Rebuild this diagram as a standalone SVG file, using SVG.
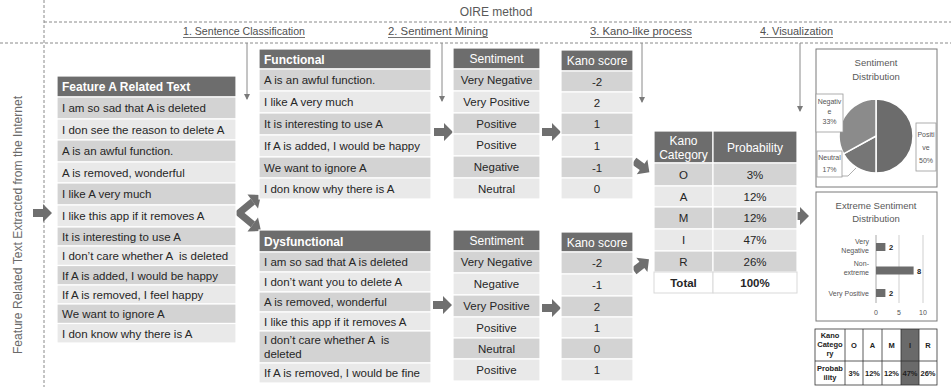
<svg xmlns="http://www.w3.org/2000/svg" width="951" height="387" viewBox="0 0 951 387">
<defs>
<style>
.dash{stroke:#8a8a8a;stroke-width:1;stroke-dasharray:3,2;fill:none}
.hd{fill:#6d6d6d;stroke:#fff;stroke-width:1.2}
.dk{fill:#d3d3d3;stroke:#fff;stroke-width:1.2}
.lt{fill:#e9e9e9;stroke:#fff;stroke-width:1.2}
.wt{fill:#fff;stroke:#d9d9d9;stroke-width:1}
.t{font-family:"Liberation Sans",Arial,sans-serif;font-size:11.5px;fill:#262626}
.th{font-family:"Liberation Sans",Arial,sans-serif;font-size:12px;fill:#fff}
.b{font-weight:bold}
.c{text-anchor:middle}
.stage{font-family:"Liberation Sans",Arial,sans-serif;font-size:11px;fill:#505050}
.ul{stroke:#505050;stroke-width:0.8}
.va{stroke:#8a8a8a;stroke-width:1;marker-end:url(#tri)}
.ba{fill:#6f6f6f}
.sm{font-family:"Liberation Sans",Arial,sans-serif;font-size:7px;fill:#555}
.ch{font-family:"Liberation Sans",Arial,sans-serif;font-size:9.5px;fill:#595959}
.box{fill:#fff;stroke:#7a7a7a;stroke-width:1}
.tb{font-family:"Liberation Sans",Arial,sans-serif;font-size:7.5px;font-weight:bold;fill:#222}
.pre{white-space:pre}
</style>
<marker id="tri" viewBox="0 0 6 6" refX="5" refY="3" markerWidth="6" markerHeight="6" orient="auto" markerUnits="userSpaceOnUse">
<path d="M0,0 L6,3 L0,6 Z" fill="#7a7a7a"/>
</marker>
<path id="barrow" d="M0,-4 L10,-4 L10,-9 L19,0 L10,9 L10,4 L0,4 Z"/>
</defs>
<rect width="951" height="387" fill="#fff"/>

<g id="frame">
<line class="dash" x1="44" y1="0" x2="44" y2="387"/>
<line class="dash" x1="44" y1="22" x2="951" y2="22"/>
<line class="dash" x1="0" y1="43" x2="951" y2="43"/>
<text x="496" y="16" class="c" font-family="Liberation Sans, Arial, sans-serif" font-size="12" fill="#595959">OIRE method</text>
<text x="22" y="225" class="c" font-family="Liberation Sans, Arial, sans-serif" font-size="12" fill="#6a6a6a" transform="rotate(-90 22 225)" textLength="258" lengthAdjust="spacingAndGlyphs">Feature Related Text Extracted from the Internet</text>
</g>

<g id="stages">
<text class="stage" x="183" y="35" textLength="122" lengthAdjust="spacingAndGlyphs">1. Sentence Classification</text>
<line class="ul" x1="183" y1="37.5" x2="305" y2="37.5"/>
<text class="stage" x="388" y="35" textLength="100" lengthAdjust="spacingAndGlyphs">2. Sentiment Mining</text>
<line class="ul" x1="388" y1="37.5" x2="488" y2="37.5"/>
<text class="stage" x="590" y="35" textLength="102" lengthAdjust="spacingAndGlyphs">3. Kano-like process</text>
<line class="ul" x1="590" y1="37.5" x2="692" y2="37.5"/>
<text class="stage" x="760" y="35" textLength="73" lengthAdjust="spacingAndGlyphs">4. Visualization</text>
<line class="ul" x1="760" y1="37.5" x2="833" y2="37.5"/>
</g>

<g id="connectors">
<line class="va" x1="247" y1="43" x2="247" y2="99"/>
<line class="va" x1="442" y1="43" x2="442" y2="101"/>
<line class="va" x1="642" y1="43" x2="642" y2="102"/>
<line class="va" x1="800" y1="43" x2="800" y2="111"/>
<use href="#barrow" class="ba" transform="translate(33,213)"/>
<use href="#barrow" class="ba" transform="translate(434,132)"/>
<use href="#barrow" class="ba" transform="translate(542,132)"/>
<use href="#barrow" class="ba" transform="translate(433,305)"/>
<use href="#barrow" class="ba" transform="translate(542,308)"/>
<use href="#barrow" class="ba" transform="translate(634,161) rotate(36)"/>
<use href="#barrow" class="ba" transform="translate(634,271) rotate(-38)"/>
<use href="#barrow" class="ba" transform="translate(790,216)"/>
<g id="fork" fill="#6f6f6f">
<polyline points="252.9,201.5 239,213 252.9,224.5" fill="none" stroke="#6f6f6f" stroke-width="7" stroke-linejoin="miter"/>
<polygon points="261,195 247.5,194.5 258,208.5"/>
<polygon points="261,231 247.5,231.5 258,217.5"/>
</g>
</g>

<g id="feature-table">
<rect class="hd" x="57" y="76" width="179" height="21"/>
<rect class="dk" x="57" y="97" width="179" height="22"/>
<rect class="lt" x="57" y="119" width="179" height="21"/>
<rect class="dk" x="57" y="140" width="179" height="22"/>
<rect class="lt" x="57" y="162" width="179" height="21"/>
<rect class="dk" x="57" y="183" width="179" height="22"/>
<rect class="lt" x="57" y="205" width="179" height="22"/>
<rect class="dk" x="57" y="227" width="179" height="19"/>
<rect class="lt" x="57" y="246" width="179" height="19.5"/>
<rect class="dk" x="57" y="265.5" width="179" height="19.5"/>
<rect class="lt" x="57" y="285" width="179" height="19"/>
<rect class="dk" x="57" y="304" width="179" height="19.5"/>
<rect class="lt" x="57" y="323.5" width="179" height="19.5"/>
<text class="th b" x="62" y="91">Feature A Related Text</text>
<text class="t" x="62" y="112">I am so sad that A is deleted</text>
<text class="t" x="62" y="134">I don see the reason to delete A</text>
<text class="t" x="62" y="155">A is an awful function.</text>
<text class="t" x="62" y="177">A is removed, wonderful</text>
<text class="t" x="62" y="198">I like A very much</text>
<text class="t" x="62" y="220">I like this app if it removes A</text>
<text class="t" x="62" y="240.5">It is interesting to use A</text>
<text class="t pre" x="62" y="260">I don’t care whether A  is deleted</text>
<text class="t" x="62" y="279.5">If A is added, I would be happy</text>
<text class="t" x="62" y="299">If A is removed, I feel happy</text>
<text class="t" x="62" y="318">We want to ignore A</text>
<text class="t" x="62" y="337.5">I don know why there is A</text>
</g>

<g id="functional-table">
<rect class="hd" x="259" y="49" width="172" height="20"/>
<rect class="dk" x="259" y="69" width="172" height="22"/>
<rect class="lt" x="259" y="91" width="172" height="22"/>
<rect class="dk" x="259" y="113" width="172" height="22"/>
<rect class="lt" x="259" y="135" width="172" height="22"/>
<rect class="dk" x="259" y="157" width="172" height="21"/>
<rect class="lt" x="259" y="178" width="172" height="21"/>
<text class="th b" x="264" y="63.5">Functional</text>
<text class="t" x="264" y="84">A is an awful function.</text>
<text class="t" x="264" y="106">I like A very much</text>
<text class="t" x="264" y="128">It is interesting to use A</text>
<text class="t" x="264" y="150">If A is added, I would be happy</text>
<text class="t" x="264" y="171.5">We want to ignore A</text>
<text class="t" x="264" y="192.5">I don know why there is A</text>
</g>

<g id="sentiment-top">
<rect class="hd" x="453" y="48" width="87" height="21"/>
<rect class="dk" x="453" y="69" width="87" height="22"/>
<rect class="lt" x="453" y="91" width="87" height="22"/>
<rect class="dk" x="453" y="113" width="87" height="21"/>
<rect class="lt" x="453" y="134" width="87" height="22"/>
<rect class="dk" x="453" y="156" width="87" height="22"/>
<rect class="lt" x="453" y="178" width="87" height="21"/>
<text class="th c" x="496.5" y="63">Sentiment</text>
<text class="t c" x="496.5" y="84">Very Negative</text>
<text class="t c" x="496.5" y="106">Very Positive</text>
<text class="t c" x="496.5" y="127.5">Positive</text>
<text class="t c" x="496.5" y="149">Positive</text>
<text class="t c" x="496.5" y="171">Negative</text>
<text class="t c" x="496.5" y="192.5">Neutral</text>
</g>

<g id="kano-top">
<rect class="hd" x="561" y="50" width="72" height="21"/>
<rect class="dk" x="561" y="71" width="72" height="21"/>
<rect class="lt" x="561" y="92" width="72" height="21"/>
<rect class="dk" x="561" y="113" width="72" height="22"/>
<rect class="lt" x="561" y="135" width="72" height="22"/>
<rect class="dk" x="561" y="157" width="72" height="21"/>
<rect class="lt" x="561" y="178" width="72" height="21"/>
<text class="th c" x="597" y="65">Kano score</text>
<text class="t c" x="597" y="85.5">-2</text>
<text class="t c" x="597" y="106.5">2</text>
<text class="t c" x="597" y="128">1</text>
<text class="t c" x="597" y="150">1</text>
<text class="t c" x="597" y="171.5">-1</text>
<text class="t c" x="597" y="192.5">0</text>
</g>

<g id="dysfunctional-table">
<rect class="hd" x="259" y="230" width="172" height="22"/>
<rect class="dk" x="259" y="252" width="172" height="20"/>
<rect class="lt" x="259" y="272" width="172" height="20"/>
<rect class="dk" x="259" y="292" width="172" height="20"/>
<rect class="lt" x="259" y="312" width="172" height="19"/>
<rect class="dk" x="259" y="331" width="172" height="32"/>
<rect class="lt" x="259" y="363" width="172" height="20"/>
<text class="th b" x="264" y="245.5">Dysfunctional</text>
<text class="t" x="264" y="266">I am so sad that A is deleted</text>
<text class="t" x="264" y="286">I don’t want you to delete A</text>
<text class="t" x="264" y="306">A is removed, wonderful</text>
<text class="t" x="264" y="325.5">I like this app if it removes A</text>
<text class="t pre" x="264" y="343.5">I don’t care whether A  is</text>
<text class="t" x="264" y="357.5">deleted</text>
<text class="t" x="264" y="377">If A is removed, I would be fine</text>
</g>

<g id="sentiment-bottom">
<rect class="hd" x="453" y="230" width="87" height="21"/>
<rect class="dk" x="453" y="251" width="87" height="22"/>
<rect class="lt" x="453" y="273" width="87" height="22"/>
<rect class="dk" x="453" y="295" width="87" height="22"/>
<rect class="lt" x="453" y="317" width="87" height="21"/>
<rect class="dk" x="453" y="338" width="87" height="21"/>
<rect class="lt" x="453" y="359" width="87" height="22"/>
<text class="th c" x="496.5" y="245">Sentiment</text>
<text class="t c" x="496.5" y="266">Very Negative</text>
<text class="t c" x="496.5" y="288">Negative</text>
<text class="t c" x="496.5" y="310">Very Positive</text>
<text class="t c" x="496.5" y="331.5">Positive</text>
<text class="t c" x="496.5" y="352.5">Neutral</text>
<text class="t c" x="496.5" y="374">Positive</text>
</g>

<g id="kano-bottom">
<rect class="hd" x="561" y="232" width="72" height="20"/>
<rect class="dk" x="561" y="252" width="72" height="22"/>
<rect class="lt" x="561" y="274" width="72" height="22"/>
<rect class="dk" x="561" y="296" width="72" height="21"/>
<rect class="lt" x="561" y="317" width="72" height="21"/>
<rect class="dk" x="561" y="338" width="72" height="21"/>
<rect class="lt" x="561" y="359" width="72" height="22"/>
<text class="th c" x="597" y="246.5">Kano score</text>
<text class="t c" x="597" y="267">-2</text>
<text class="t c" x="597" y="289">-1</text>
<text class="t c" x="597" y="310.5">2</text>
<text class="t c" x="597" y="331.5">1</text>
<text class="t c" x="597" y="352.5">0</text>
<text class="t c" x="597" y="374">1</text>
</g>

<g id="kano-category-table">
<rect class="hd" x="654" y="131" width="59" height="32"/>
<rect class="hd" x="713" y="131" width="84" height="32"/>
<rect class="dk" x="654" y="163" width="59" height="23"/>
<rect class="dk" x="713" y="163" width="84" height="23"/>
<rect class="lt" x="654" y="186" width="59" height="21"/>
<rect class="lt" x="713" y="186" width="84" height="21"/>
<rect class="dk" x="654" y="207" width="59" height="22"/>
<rect class="dk" x="713" y="207" width="84" height="22"/>
<rect class="lt" x="654" y="229" width="59" height="22"/>
<rect class="lt" x="713" y="229" width="84" height="22"/>
<rect class="dk" x="654" y="251" width="59" height="21"/>
<rect class="dk" x="713" y="251" width="84" height="21"/>
<rect class="wt" x="654" y="272" width="59" height="21"/>
<rect class="wt" x="713" y="272" width="84" height="21"/>
<text class="th c" x="683.5" y="145">Kano</text>
<text class="th c" x="683.5" y="159">Category</text>
<text class="th c" x="755" y="152">Probability</text>
<text class="t c" x="683.5" y="178.5">O</text>
<text class="t c" x="755" y="178.5">3%</text>
<text class="t c" x="683.5" y="200.5">A</text>
<text class="t c" x="755" y="200.5">12%</text>
<text class="t c" x="683.5" y="222">M</text>
<text class="t c" x="755" y="222">12%</text>
<text class="t c" x="683.5" y="244">I</text>
<text class="t c" x="755" y="244">47%</text>
<text class="t c" x="683.5" y="265.5">R</text>
<text class="t c" x="755" y="265.5">26%</text>
<text class="t c b" x="683.5" y="287">Total</text>
<text class="t c b" x="755" y="287">100%</text>
</g>

<g id="pie-chart">
<rect class="box" x="816" y="49" width="121" height="138"/>
<text class="ch c" x="876" y="66">Sentiment</text>
<text class="ch c" x="876" y="80">Distribution</text>
<path d="M876,136 L876,99 A37,37 0 0 1 876,173 Z" fill="#6c6c6c" stroke="#fff" stroke-width="1.5"/>
<path d="M876,136 L876,173 A37,37 0 0 1 843.6,153.8 Z" fill="#767676" stroke="#fff" stroke-width="1.5"/>
<path d="M876,136 L843.6,153.8 A37,37 0 0 1 876,99 Z" fill="#8b8b8b" stroke="#fff" stroke-width="1.5"/>
<polyline points="842,176 848,176 856,168" fill="none" stroke="#9a9a9a" stroke-width="0.8"/>
<rect x="816" y="94" width="27" height="38" fill="#fff" stroke="#9a9a9a" stroke-width="0.8"/>
<text class="sm c" x="829.5" y="104">Negativ</text>
<text class="sm c" x="829.5" y="114">e</text>
<text class="sm c" x="829.5" y="124">33%</text>
<rect x="817" y="151" width="25" height="26" fill="#fff" stroke="#9a9a9a" stroke-width="0.8"/>
<text class="sm c" x="829.5" y="160">Neutral</text>
<text class="sm c" x="829.5" y="172" font-size="8">17%</text>
<rect x="916" y="123" width="20" height="48" fill="#fff" stroke="#9a9a9a" stroke-width="0.8"/>
<text class="sm c" x="926" y="137">Positi</text>
<text class="sm c" x="926" y="150">ve</text>
<text class="sm c" x="926" y="163">50%</text>
</g>

<g id="bar-chart">
<rect class="box" x="816" y="192" width="121" height="129"/>
<text class="ch c" x="876" y="209">Extreme Sentiment</text>
<text class="ch c" x="876" y="222">Distribution</text>
<line x1="899" y1="235" x2="899" y2="303" stroke="#cfcfcf" stroke-width="1"/>
<line x1="923" y1="235" x2="923" y2="303" stroke="#cfcfcf" stroke-width="1"/>
<line x1="876" y1="235" x2="876" y2="303" stroke="#a8a8a8" stroke-width="1"/>
<rect x="876" y="243" width="9.4" height="8" fill="#6c6c6c"/>
<rect x="876" y="266.5" width="37.6" height="8" fill="#6c6c6c"/>
<rect x="876" y="289" width="9.4" height="8" fill="#6c6c6c"/>
<text class="tb" x="889" y="250" font-size="7">2</text>
<text class="tb" x="917" y="273.5" font-size="7">8</text>
<text class="tb" x="889" y="296" font-size="7">2</text>
<g class="sm" text-anchor="end" font-size="8">
<text x="869" y="244">Very</text>
<text x="869" y="253">Negative</text>
<text x="869" y="266">Non-</text>
<text x="869" y="275">extreme</text>
<text x="869" y="296">Very Positive</text>
</g>
<g class="sm" text-anchor="middle" font-size="8.5">
<text x="876" y="315">0</text>
<text x="899" y="315">5</text>
<text x="923" y="315">10</text>
</g>
</g>

<g id="summary-table">
<rect x="901" y="329" width="18" height="56" fill="#6a6a6a"/>
<rect x="815" y="329" width="122" height="56" fill="none" stroke="#333" stroke-width="0.8"/>
<g stroke="#333" stroke-width="0.8">
<line x1="815" y1="361" x2="937" y2="361"/>
<line x1="845" y1="329" x2="845" y2="385"/>
<line x1="863" y1="329" x2="863" y2="385"/>
<line x1="882" y1="329" x2="882" y2="385"/>
<line x1="901" y1="329" x2="901" y2="385"/>
<line x1="919" y1="329" x2="919" y2="385"/>
</g>
<text class="tb c" x="830" y="338">Kano</text>
<text class="tb c" x="830" y="347">Catego</text>
<text class="tb c" x="830" y="356">ry</text>
<text class="tb c" x="830" y="371">Probab</text>
<text class="tb c" x="830" y="380">ility</text>
<text class="tb c" x="854" y="348">O</text>
<text class="tb c" x="872.5" y="348">A</text>
<text class="tb c" x="891.5" y="348">M</text>
<text class="tb c" x="910" y="348" fill="#fff">I</text>
<text class="tb c" x="928" y="348">R</text>
<text class="tb c" x="854" y="376">3%</text>
<text class="tb c" x="872.5" y="376">12%</text>
<text class="tb c" x="891.5" y="376">12%</text>
<text class="tb c" x="910" y="376" fill="#fff">47%</text>
<text class="tb c" x="928" y="376">26%</text>
</g>
</svg>
